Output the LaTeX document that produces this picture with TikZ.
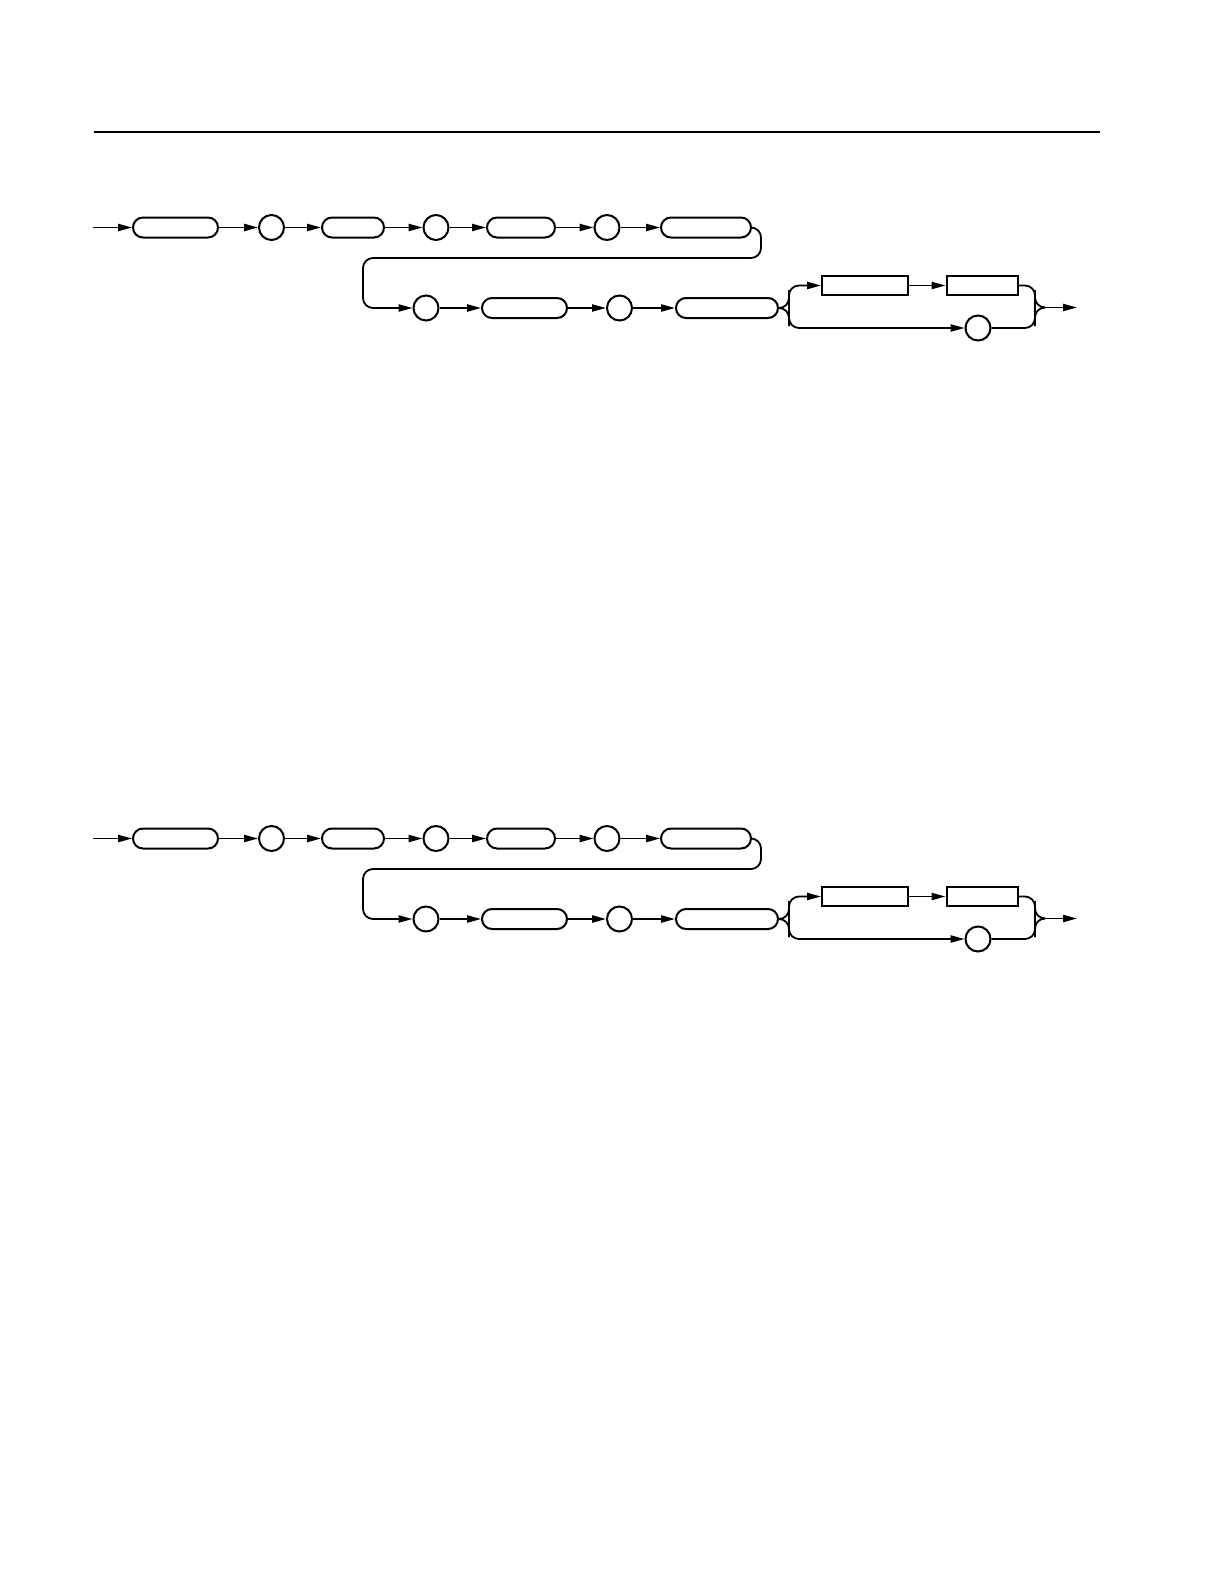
\documentclass[tikz,border=0pt]{standalone}
\usepackage{amsmath, amssymb}
\usetikzlibrary{arrows.meta}

\begin{document}
\begin{tikzpicture}[x=0.5pt, y=-0.5pt]
\tikzstyle{pill} = [rectangle, rounded corners=5pt, draw=black, line width=1pt,
                    inner sep=0pt, minimum height=10pt]
\tikzstyle{ring} = [circle, draw=black, line width=1pt, inner sep=0pt, minimum size=12.5pt]
\tikzstyle{slab} = [rectangle, draw=black, line width=1pt, inner sep=0pt, minimum height=9.5pt]
\tikzstyle{flow} = [draw, line width=0.9pt, -{Triangle[length=7pt, width=3.6pt]}]
\tikzstyle{wire} = [draw, line width=0.9pt, rounded corners=5pt]

\useasboundingbox (0,0) rectangle (1224,1584);
\draw[line width=0.6pt] (94,132) -- (1100,132);

% same syntax diagram, drawn twice
\foreach \p/\dy in {top/0, bot/611} {
\begin{scope}[shift={(0,\dy)}]
\coordinate (\p-in) at (93,227.5);
\node[pill, minimum width=42.5pt] (\p-b1) at (175.5,227.5) {};
\node[ring] (\p-c1) at (271.5,227.5) {};
\node[pill, minimum width=31pt] (\p-b2) at (353,227.5) {};
\node[ring] (\p-c2) at (436,227.5) {};
\node[pill, minimum width=34pt] (\p-b3) at (521,227.5) {};
\node[ring] (\p-c3) at (607,227.5) {};
\node[pill, minimum width=45pt] (\p-b4) at (706,227.5) {};

\node[ring] (\p-c4) at (426,308) {};
\node[pill, minimum width=42.5pt] (\p-b5) at (524.5,308) {};
\node[ring] (\p-c5) at (619.5,308) {};
\node[pill, minimum width=51pt] (\p-b6) at (727,308) {};

\node[slab, minimum width=43pt] (\p-r1) at (865,285.5) {};
\node[slab, minimum width=35.5pt] (\p-r2) at (982,285.5) {};
\node[ring] (\p-c6) at (978,328) {};
\coordinate (\p-join) at (1045,307.5);
\coordinate (\p-out) at (1077,307.5);

\draw[flow] (\p-in) -- (\p-b1);
\draw[flow] (\p-b1) -- (\p-c1);
\draw[flow] (\p-c1) -- (\p-b2);
\draw[flow] (\p-b2) -- (\p-c2);
\draw[flow] (\p-c2) -- (\p-b3);
\draw[flow] (\p-b3) -- (\p-c3);
\draw[flow] (\p-c3) -- (\p-b4);
\draw[wire] (\p-b4.east) -| (761,258) -| (363,290);
\draw[flow, rounded corners=5pt] (363,280) |- (\p-c4);
\draw[flow] (\p-c4) -- (\p-b5);
\draw[flow] (\p-b5) -- (\p-c5);
\draw[flow] (\p-c5) -- (\p-b6);

% brace out to the two branches
\draw[flow, rounded corners=5pt] (\p-b6.east) -| (789,300) |- (\p-r1);
\draw[flow, rounded corners=5pt] (\p-b6.east) -| (789,316) |- (\p-c6);
\draw[flow] (\p-r1) -- (\p-r2);
\draw[wire] (\p-r2.east) -| (1035,300) |- (\p-join);
\draw[wire] (\p-c6.east) -| (1035,316) |- (\p-join);
\draw[flow] (\p-join) -- (\p-out);
\end{scope}
}
\end{tikzpicture}
\end{document}
